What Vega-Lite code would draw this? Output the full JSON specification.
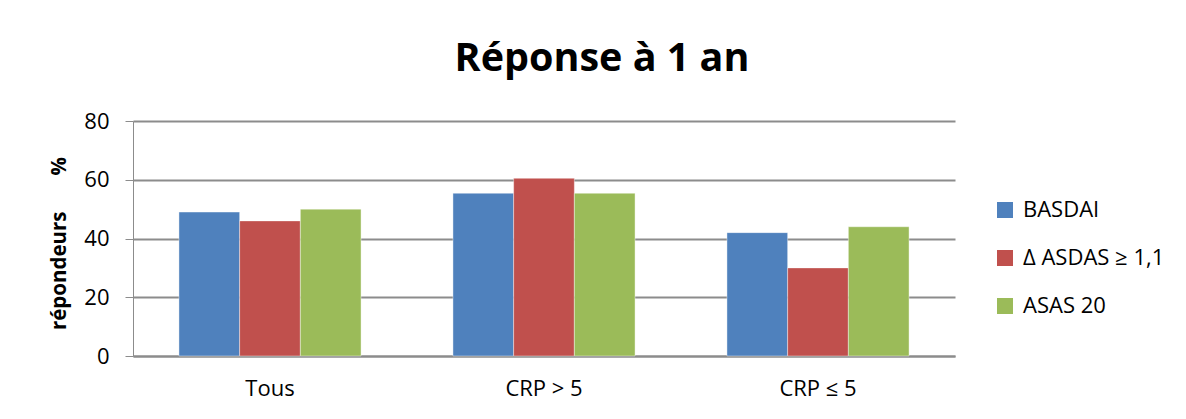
{
  "$schema": "https://vega.github.io/schema/vega-lite/v6.json",
  "width": 822,
  "height": 235,
  "autosize": "none",
  "padding": {"left": 133, "top": 121, "right": 231, "bottom": 63},
  "background": "white",
  "title": {"text": "Réponse à 1 an", "font": "Open Sans", "fontSize": 39.5, "fontWeight": "bold", "color": "black", "anchor": "middle", "dx": 58, "offset": 31},
  "data": {"values": [
    {"groupe": "Tous", "critere": "BASDAI", "valeur": 49},
    {"groupe": "Tous", "critere": "Δ ASDAS ≥ 1,1", "valeur": 46},
    {"groupe": "Tous", "critere": "ASAS 20", "valeur": 50},
    {"groupe": "CRP > 5", "critere": "BASDAI", "valeur": 55.4},
    {"groupe": "CRP > 5", "critere": "Δ ASDAS ≥ 1,1", "valeur": 60.5},
    {"groupe": "CRP > 5", "critere": "ASAS 20", "valeur": 55.4},
    {"groupe": "CRP ≤ 5", "critere": "BASDAI", "valeur": 42},
    {"groupe": "CRP ≤ 5", "critere": "Δ ASDAS ≥ 1,1", "valeur": 30},
    {"groupe": "CRP ≤ 5", "critere": "ASAS 20", "valeur": 44}
  ]},
  "mark": {"type": "bar", "stroke": "white", "strokeOpacity": 0.4, "strokeWidth": 1},
  "encoding": {
    "x": {"field": "groupe", "type": "nominal", "sort": ["Tous", "CRP > 5", "CRP ≤ 5"],
      "scale": {"paddingInner": 0, "paddingOuter": 0},
      "axis": {"title": null, "labelAngle": 0, "ticks": false, "labelFont": "Open Sans", "labelFontSize": 22, "labelColor": "black", "labelPadding": 22, "domainColor": "#8c8c8c", "domainWidth": 2, "grid": false}},
    "xOffset": {"field": "critere", "type": "nominal", "sort": ["BASDAI", "Δ ASDAS ≥ 1,1", "ASAS 20"],
      "scale": {"paddingInner": 0, "paddingOuter": 0.757}},
    "y": {"field": "valeur", "type": "quantitative",
      "scale": {"domain": [0, 80], "nice": false},
      "axis": {"title": "répondeurs\u2003\u2002 %", "titleFont": "Open Sans", "titleFontSize": 20.5, "titleFontWeight": "bold", "titleColor": "black", "titlePadding": 14, "titleY": 122,
        "values": [0, 20, 40, 60, 80], "labelFont": "Open Sans", "labelFontSize": 22, "labelColor": "black", "labelPadding": 16,
        "tickSize": 8, "tickColor": "#8c8c8c", "tickWidth": 1, "domainColor": "#8c8c8c", "domainWidth": 1,
        "grid": true, "gridColor": "#8c8c8c", "gridWidth": 2}},
    "color": {"field": "critere", "type": "nominal", "sort": ["BASDAI", "Δ ASDAS ≥ 1,1", "ASAS 20"],
      "scale": {"domain": ["BASDAI", "Δ ASDAS ≥ 1,1", "ASAS 20"], "range": ["#4F81BD", "#C0504D", "#9BBB59"]},
      "legend": {"title": null, "orient": "none", "legendX": 861, "legendY": 78, "symbolType": "square", "symbolSize": 256, "symbolStrokeWidth": 0,
        "labelFont": "Open Sans", "labelFontSize": 22, "labelColor": "black", "rowPadding": 26, "labelOffset": 7}}
  },
  "config": {"view": {"stroke": null}}
}
